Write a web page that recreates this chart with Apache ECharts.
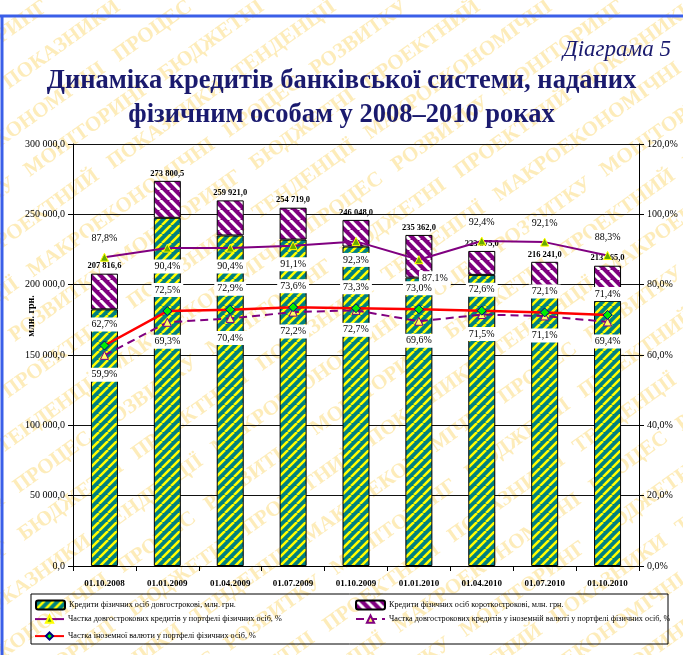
<!DOCTYPE html>
<html>
<head>
<meta charset="utf-8">
<script src="https://cdn.jsdelivr.net/npm/echarts@6/dist/echarts.min.js"></script>
<style>
  html, body { margin: 0; padding: 0; background: #fff; }
  #chart { width: 683px; height: 655px; }
</style>
</head>
<body>
<div id="chart"></div>
<script>
// дані
const dates = ['01.10.2008', '01.01.2009', '01.04.2009', '01.07.2009', '01.10.2009', '01.01.2010', '01.04.2010', '01.07.2010', '01.10.2010']
const totals = [207816.6, 273800.5, 259921.0, 254719.0, 246048.0, 235362.0, 223975.0, 216241.0, 213465.0]
const longTerm = [182463, 247516, 234969, 232049, 227102, 205000, 206953, 199158, 188490]
const shortTerm = [25354, 26285, 24952, 22670, 18946, 30362, 17022, 17083, 24975]
const shareLong = [87.8, 90.4, 90.4, 91.1, 92.3, 87.1, 92.4, 92.1, 88.3]
const shareFxLong = [59.9, 69.3, 70.4, 72.2, 72.7, 69.6, 71.5, 71.1, 69.4]
const shareFx = [62.7, 72.5, 72.9, 73.6, 73.3, 73.0, 72.6, 72.1, 71.4]

const names = [
  'Кредити фізичних осіб довгострокові, млн. грн.',
  'Кредити фізичних осіб короткострокові, млн. грн.',
  'Частка довгострокових кредитів у портфелі фізичних осіб, %',
  'Частка довгострокових кредитів у іноземній валюті у портфелі фізичних осіб, %',
  'Частка іноземної валюти у портфелі фізичних осіб, %',
]

const serif = 'Liberation Serif'
const navy = '#1a1a6e'

// штриховка для стовпців
function stripes(bg, fg, size, width, dir) {
  const c = document.createElement('canvas')
  c.width = size
  c.height = size
  const g = c.getContext('2d')
  g.fillStyle = bg
  g.fillRect(0, 0, size, size)
  g.strokeStyle = fg
  g.lineWidth = width
  g.beginPath()
  for (let k = -size; k <= size; k += size) {
    if (dir > 0) {
      g.moveTo(k, size)
      g.lineTo(k + size, 0)
    } else {
      g.moveTo(k, 0)
      g.lineTo(k + size, size)
    }
  }
  g.stroke()
  return { image: c, repeat: 'repeat' }
}

const fmtNum = (v) => {
  const [i, d] = v.toFixed(1).split('.')
  return i.replace(/\B(?=(\d{3})+(?!\d))/g, ' ') + ',' + d
}
const fmtPct = (v) => v.toFixed(1).replace('.', ',') + '%'

const boxLabel = {
  show: true,
  fontFamily: serif,
  fontSize: 10,
  color: '#000',
  backgroundColor: '#fff',
  padding: [2, 3],
  formatter: (p) => fmtPct(p.value),
}

// позиції підписів для суцільної лінії
const longLabelPos = ['top', 'bottom', 'bottom', 'bottom', 'bottom', 'bottom', 'top', 'top', 'top']

// водяний знак
const words = ['ПОКАЗНИКИ', 'ТЕНДЕНЦІЇ', 'МАКРОЕКОНОМІЧНІ', 'ПРОЦЕС', 'РОЗВИТКУ', 'МОНІТОРИНГ', 'БЮДЖЕТНІ', 'ПРОЕКТНИЙ']
const watermark = []
for (let k = 0; k < 26; k++) {
  let s = ''
  for (let j = 0; j < 16; j++) s += words[(k * 3 + j) % words.length] + '   '
  watermark.push({
    type: 'text',
    x: -1090 + k * 72,
    y: 700,
    rotation: 0.62,
    z: -10,
    silent: true,
    style: {
      text: s,
      fill: 'rgba(250, 210, 90, 0.42)',
      font: 'bold 21px "Liberation Serif"',
    },
  })
}

const chart = echarts.init(document.getElementById('chart'))

chart.setOption({
  backgroundColor: '#fff',
  animation: false,
  title: [
    {
      text: 'Діаграма 5',
      right: 7,
      top: 33,
      textStyle: { fontFamily: serif, fontStyle: 'italic', fontWeight: 'normal', fontSize: 23, color: navy },
    },
    {
      text: 'Динаміка кредитів банківської системи, наданих\nфізичним особам у 2008–2010 роках',
      left: 'center',
      top: 59,
      padding: [5, 0, 5, 11],
      textStyle: { fontFamily: serif, fontWeight: 'bold', fontSize: 26.5, lineHeight: 34, color: navy, align: 'center' },
    },
  ],
  graphic: [
    ...watermark,
    { type: 'line', shape: { x1: 0, y1: 16, x2: 683, y2: 16 }, style: { stroke: '#3a5fe8', lineWidth: 3 }, z: 5 },
    { type: 'line', shape: { x1: 2, y1: 16, x2: 2, y2: 655 }, style: { stroke: '#3a5fe8', lineWidth: 3 }, z: 5 },
    {
      type: 'text',
      x: 31,
      y: 316,
      rotation: Math.PI / 2,
      style: { text: 'млн. грн.', font: 'bold 10px "Liberation Serif"', fill: '#000', textAlign: 'center', textVerticalAlign: 'middle' },
    },
    {
      type: 'rect',
      shape: { x: 31, y: 594, width: 637, height: 50 },
      style: { fill: 'rgba(255,255,255,0)', stroke: '#000', lineWidth: 1 },
      z: 5,
    },
  ],
  legend: [
    { data: [names[0]], left: 35, top: 599.5 },
    { data: [names[1]], left: 355, top: 599.5 },
    { data: [names[2]], left: 34, top: 614.5 },
    { data: [names[3]], left: 355, top: 614.5 },
    { data: [names[4]], left: 34, top: 631.5 },
  ].map((l) => ({
    ...l,
    selectedMode: false,
    itemWidth: 29,
    itemHeight: 9,
    itemGap: 4,
    padding: 0,
    textStyle: { fontFamily: serif, fontSize: 8.2, color: '#000', padding: [0, 0, 0, -1] },
  })),
  grid: { left: 73, right: 44, top: 144, bottom: 89 },
  xAxis: {
    type: 'category',
    data: dates,
    axisLine: { lineStyle: { color: '#000', width: 1 } },
    axisTick: { show: true, length: 5, lineStyle: { color: '#000' } },
    axisLabel: { fontFamily: serif, fontWeight: 'bold', fontSize: 9, color: '#000', margin: 13 },
  },
  yAxis: [
    {
      type: 'value',
      min: 0,
      max: 300000,
      interval: 50000,
      axisLine: { show: true, lineStyle: { color: '#000' } },
      axisTick: { show: true, length: 5, lineStyle: { color: '#000' } },
      splitLine: { lineStyle: { color: '#111', width: 1 } },
      axisLabel: { fontFamily: serif, fontSize: 10, color: '#000', formatter: (v) => fmtNum(v) },
    },
    {
      type: 'value',
      min: 0,
      max: 120,
      interval: 20,
      axisLine: { show: true, lineStyle: { color: '#000' } },
      axisTick: { show: true, length: 5, lineStyle: { color: '#000' } },
      splitLine: { show: false },
      axisLabel: { fontFamily: serif, fontSize: 10, color: '#000', formatter: (v) => fmtPct(v) },
    },
  ],
  series: [
    {
      name: names[0],
      type: 'bar',
      stack: 'credits',
      barWidth: 27,
      data: longTerm,
      itemStyle: { color: stripes('#008080', '#ffff00', 9, 2.6, 1), borderColor: '#000', borderWidth: 1 },
    },
    {
      name: names[1],
      type: 'bar',
      stack: 'credits',
      barWidth: 27,
      data: shortTerm,
      itemStyle: { color: stripes('#800080', '#ffffff', 10, 3, -1), borderColor: '#000', borderWidth: 1 },
      label: {
        show: true,
        position: 'top',
        distance: 3,
        fontFamily: serif,
        fontWeight: 'bold',
        fontSize: 8.5,
        color: '#000',
        formatter: (p) => fmtNum(totals[p.dataIndex]),
      },
    },
    {
      name: names[2],
      type: 'line',
      yAxisIndex: 1,
      data: shareLong.map((v, i) => ({
        value: v,
        label: { position: longLabelPos[i], offset: i === 5 ? [16, 0] : [0, 0] },
      })),
      lineStyle: { color: '#800080', width: 2 },
      symbol: 'triangle',
      symbolSize: 8,
      itemStyle: { color: '#66aa00', borderColor: '#ffff00', borderWidth: 1 },
      label: { ...boxLabel, distance: 7 },
      z: 4,
    },
    {
      name: names[3],
      type: 'line',
      yAxisIndex: 1,
      data: shareFxLong,
      lineStyle: { color: '#800080', width: 2, type: [8, 5] },
      symbol: 'triangle',
      symbolSize: 8,
      itemStyle: { color: '#ffff66', borderColor: '#800080', borderWidth: 1 },
      label: { ...boxLabel, position: 'bottom', distance: 8 },
      z: 4,
    },
    {
      name: names[4],
      type: 'line',
      yAxisIndex: 1,
      data: shareFx,
      lineStyle: { color: '#ff0000', width: 2.5 },
      symbol: 'diamond',
      symbolSize: 9,
      itemStyle: { color: '#00ee00', borderColor: '#000080', borderWidth: 1 },
      label: { ...boxLabel, position: 'top', distance: 9 },
      z: 5,
    },
  ],
})

window.addEventListener('resize', () => chart.resize())
</script>
</body>
</html>
